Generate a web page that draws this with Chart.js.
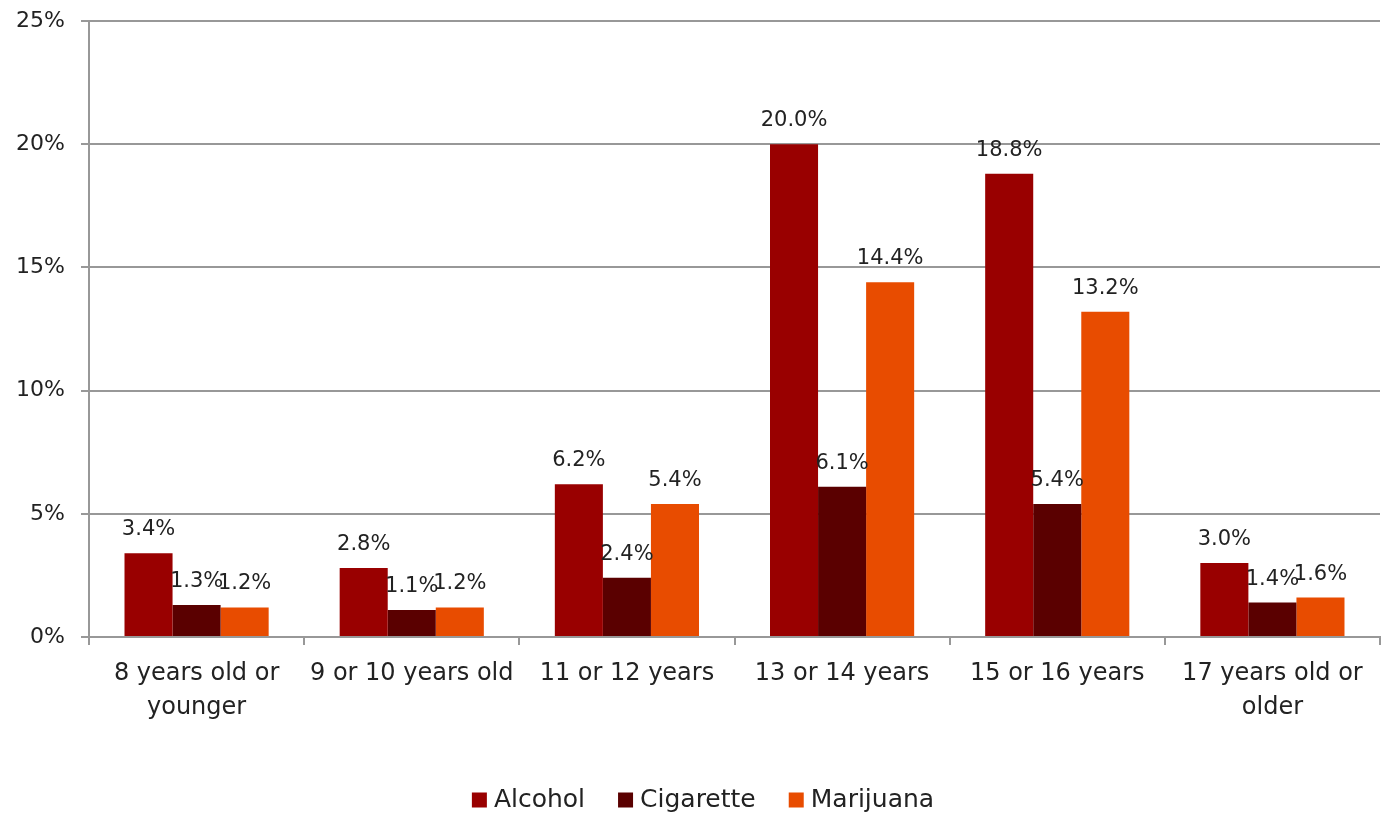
<!DOCTYPE html>
<html>
<head>
<meta charset="utf-8">
<script src="https://cdn.jsdelivr.net/npm/chart.js@4"></script>
<style>
  html, body { margin: 0; padding: 0; background: #fff; }
  #wrap { width: 1386px; height: 814px; }
</style>
</head>
<body>
<div id="wrap"><canvas id="chart" width="1386" height="814"></canvas></div>
<script>
// Age at first use, by substance (% of respondents)
const categories = [
  ["8 years old or", "younger"],
  "9 or 10 years old",
  "11 or 12 years",
  "13 or 14 years",
  "15 or 16 years",
  ["17 years old or", "older"],
];
const alcohol   = [3.4, 2.8, 6.2, 20.0, 18.8, 3.0];
const cigarette = [1.3, 1.1, 2.4, 6.1, 5.4, 1.4];
const marijuana = [1.2, 1.2, 5.4, 14.4, 13.2, 1.6];
const yTicks    = [0, 5, 10, 15, 20, 25];

const TEXT_FONT = "'DejaVu Sans', sans-serif";
const GRID      = "#989898";

// value labels above each bar
const barLabels = {
  id: "barLabels",
  afterDatasetsDraw(chart) {
    const ctx = chart.ctx;
    ctx.save();
    ctx.font = "21px " + TEXT_FONT;
    ctx.fillStyle = "#222";
    ctx.textAlign = "center";
    ctx.textBaseline = "alphabetic";
    chart.data.datasets.forEach((ds, i) => {
      chart.getDatasetMeta(i).data.forEach((bar, j) => {
        ctx.fillText(ds.data[j].toFixed(1) + "%", bar.x, bar.y - 18);
      });
    });
    ctx.restore();
  },
};

// bottom legend, drawn by hand so it sits where the original has it
const bottomLegend = {
  id: "bottomLegend",
  afterDraw(chart) {
    const ctx = chart.ctx;
    const box = 15, gapText = 7, gapItem = 33, cy = 800, cx = 703;
    ctx.save();
    ctx.font = "25px " + TEXT_FONT;
    ctx.textBaseline = "middle";
    ctx.textAlign = "left";
    const items = chart.data.datasets.map((ds) => ({
      label: ds.label, color: ds.backgroundColor, w: ctx.measureText(ds.label).width,
    }));
    const total = items.reduce((s, it) => s + box + gapText + it.w, 0) + gapItem * (items.length - 1);
    let x = cx - total / 2;
    items.forEach((it) => {
      ctx.fillStyle = it.color;
      ctx.fillRect(x, cy - box / 2, box, box);
      x += box + gapText;
      ctx.fillStyle = "#222";
      ctx.fillText(it.label, x, cy);
      x += it.w + gapItem;
    });
    ctx.restore();
  },
};

new Chart(document.getElementById("chart"), {
  type: "bar",
  data: {
    labels: categories,
    datasets: [
      { label: "Alcohol",   data: alcohol,   backgroundColor: "#990000" },
      { label: "Cigarette", data: cigarette, backgroundColor: "#5a0000" },
      { label: "Marijuana", data: marijuana, backgroundColor: "#e84c00" },
    ],
  },
  options: {
    responsive: false,
    animation: false,
    layout: { padding: { top: 21, right: 6, left: 0, bottom: 0 } },
    datasets: { bar: { categoryPercentage: 0.67, barPercentage: 1.0 } },
    plugins: {
      legend: { display: false },
      tooltip: { enabled: false },
    },
    scales: {
      x: {
        grid: { drawOnChartArea: false, drawTicks: true, tickLength: 8, color: GRID, lineWidth: 2 },
        border: { color: GRID, width: 2 },
        ticks: { color: "#222", font: { family: TEXT_FONT, size: 24, lineHeight: 1.4 }, padding: 12, maxRotation: 0, autoSkip: false },
        afterFit: (s) => { s.height = 177; },
      },
      y: {
        min: 0,
        max: 25,
        afterBuildTicks: (s) => { s.ticks = yTicks.map((v) => ({ value: v })); },
        grid: { color: GRID, lineWidth: 2, tickLength: 8 },
        border: { color: GRID, width: 2 },
        ticks: {
          color: "#222",
          font: { family: TEXT_FONT, size: 22 },
          padding: 16,
          callback: (v) => v + "%",
        },
        afterFit: (s) => { s.width = 89; s.paddingTop = 0; s.paddingBottom = 0; },
      },
    },
  },
  plugins: [barLabels, bottomLegend],
});
</script>
</body>
</html>
